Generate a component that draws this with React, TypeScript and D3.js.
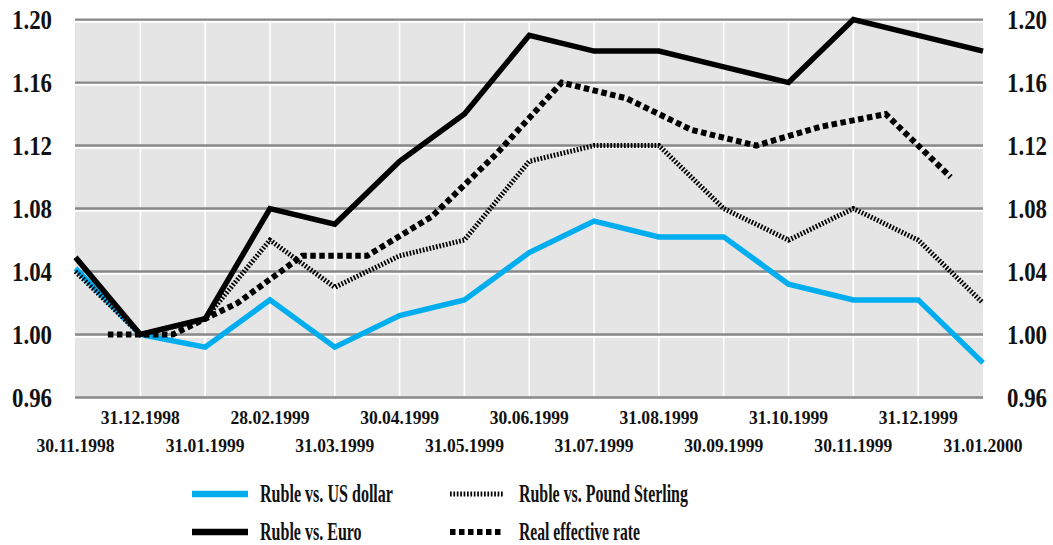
import React from "react";
import * as d3 from "d3";

const dateLabels = [
  "30.11.1998", "31.12.1998", "31.01.1999", "28.02.1999", "31.03.1999",
  "30.04.1999", "31.05.1999", "30.06.1999", "31.07.1999", "31.08.1999",
  "30.09.1999", "31.10.1999", "30.11.1999", "31.12.1999", "31.01.2000",
];
const monthIdx = [0, 1, 2, 3, 4, 5, 6, 7, 8, 9, 10, 11, 12, 13, 14];

const usd = [1.042, 1.0, 0.992, 1.022, 0.992, 1.012, 1.022, 1.052, 1.072, 1.062, 1.062, 1.032, 1.022, 1.022, 0.982];
const euro = [1.049, 1.0, 1.01, 1.08, 1.07, 1.11, 1.14, 1.19, 1.18, 1.18, 1.17, 1.16, 1.2, 1.19, 1.18];
const pound = [1.04, 1.0, 1.01, 1.06, 1.03, 1.05, 1.06, 1.11, 1.12, 1.12, 1.08, 1.06, 1.08, 1.06, 1.02];
const realIdx = [0.5, 1.5, 2.5, 3.5, 4.5, 5.5, 6.5, 7.5, 8.5, 9.5, 10.5, 11.5, 12.5, 13.5];
const realRate = [1.0, 1.0, 1.02, 1.05, 1.05, 1.075, 1.115, 1.16, 1.15, 1.13, 1.12, 1.132, 1.14, 1.1];

const yTicks = [0.96, 1.0, 1.04, 1.08, 1.12, 1.16, 1.2];

const legendItems = [
  { label: "Ruble vs. US dollar", key: "usd", len: 133 },
  { label: "Ruble vs. Euro", key: "euro", len: 102 },
  { label: "Ruble vs. Pound Sterling", key: "pound", len: 169 },
  { label: "Real effective rate", key: "real", len: 121 },
];

const BLUE = "#00aeef";
const styles: Record<string, any> = {
  usd: { stroke: BLUE, strokeWidth: 5.5 },
  euro: { stroke: "#000", strokeWidth: 5.5 },
  pound: { stroke: "#000", strokeWidth: 5, strokeDasharray: "1.7,1.7" },
  real: { stroke: "#000", strokeWidth: 6, strokeDasharray: "5.5,3.5" },
};

// Times/Liberation Serif Bold advance widths (per 1000 em)
const W: Record<string, number> = {
  " ": 250, ".": 250, "0": 500, "1": 500, "2": 500, "3": 500, "4": 500, "5": 500, "6": 500, "7": 500, "8": 500, "9": 500,
  R: 722, u: 556, b: 556, l: 278, e: 444, v: 500, s: 389, U: 722, S: 556, d: 556, o: 500, a: 500, r: 444,
  E: 667, P: 611, n: 556, g: 500, i: 278, f: 333, c: 444, t: 333,
};
const natural = (s: string, size: number) => s.split("").reduce((a, c) => a + (W[c] ?? 500), 0) * size / 1000;

function Squeezed(props: { x: number; y: number; text: string; size: number; width: number; anchor?: string; font: string }) {
  const { x, y, text, size, width, anchor = "start", font } = props;
  const k = width / natural(text, size);
  return (
    <text
      transform={`translate(${x},${y}) scale(${k},1)`}
      textAnchor={anchor}
      fontFamily={font}
      fontWeight="bold"
      fontSize={size}
      fill="#111"
    >
      {text}
    </text>
  );
}

export default function App() {
  const left = 75, right = 983;
  const x = d3.scaleLinear().domain([0, 14]).range([left + 0.5, right]);
  const y = d3.scaleLinear().domain([0.96, 1.2]).range([397.5, 19.6]);
  const line = d3
    .line<[number, number]>()
    .x((d) => x(d[0]))
    .y((d) => y(d[1]));

  const serie = (idx: number[], vals: number[]) => line(idx.map((i, k) => [i, vals[k]] as [number, number])) || "";
  const font = "'Liberation Serif', 'Times New Roman', serif";

  return (
    <svg width={1053} height={545} style={{ position: "absolute", left: 0, top: 0, background: "#fff" }}>
      <rect x={left} y={y(1.2)} width={right - left} height={y(0.96) - y(1.2)} fill="#e5e5e5" />
      {monthIdx.slice(1, 14).map((i) => (
        <line key={"v" + i} x1={x(i)} x2={x(i)} y1={y(1.2)} y2={y(0.96)} stroke="#fff" strokeWidth={1.6} />
      ))}
      {yTicks.map((t) => (
        <g key={"h" + t}>
          <line x1={left} x2={right} y1={y(t) + 2.3} y2={y(t) + 2.3} stroke="#fff" strokeWidth={1.8} />
          <line x1={left} x2={right} y1={y(t)} y2={y(t)} stroke="#898989" strokeWidth={2.4} />
        </g>
      ))}
      {yTicks.map((t) => (
        <g key={"yl" + t}>
          <Squeezed x={52} y={y(t) + 9.5} text={t.toFixed(2)} size={28} width={40} anchor="end" font={font} />
          <Squeezed x={1007} y={y(t) + 9.5} text={t.toFixed(2)} size={28} width={40} anchor="start" font={font} />
        </g>
      ))}
      {dateLabels.map((lab, i) => (
        <Squeezed
          key={lab}
          x={x(monthIdx[i])}
          y={i % 2 === 1 ? 424 : 452}
          text={lab}
          size={19}
          width={79}
          anchor="middle"
          font={font}
        />
      ))}
      <path d={serie(monthIdx, usd)} fill="none" {...styles.usd} strokeLinejoin="miter" />
      <path d={serie(monthIdx, euro)} fill="none" {...styles.euro} strokeLinejoin="miter" />
      <path d={serie(monthIdx, pound)} fill="none" {...styles.pound} strokeLinejoin="miter" />
      <path d={serie(realIdx, realRate)} fill="none" {...styles.real} strokeLinejoin="miter" />
      {legendItems.map((it, k) => {
        const col = Math.floor(k / 2);
        const row = k % 2;
        const lx = col === 0 ? 192 : 450;
        const lw = col === 0 ? 56 : 53;
        const ly = row === 0 ? 494 : 532;
        const s = styles[it.key];
        return (
          <g key={it.key}>
            <line x1={lx} x2={lx + lw} y1={ly} y2={ly} {...s} strokeWidth={it.key === "usd" || it.key === "euro" ? 6.5 : s.strokeWidth} />
            <Squeezed x={col === 0 ? 260 : 519} y={ly + 7.5} text={it.label} size={26} width={it.len} font={font} />
          </g>
        );
      })}
    </svg>
  );
}
